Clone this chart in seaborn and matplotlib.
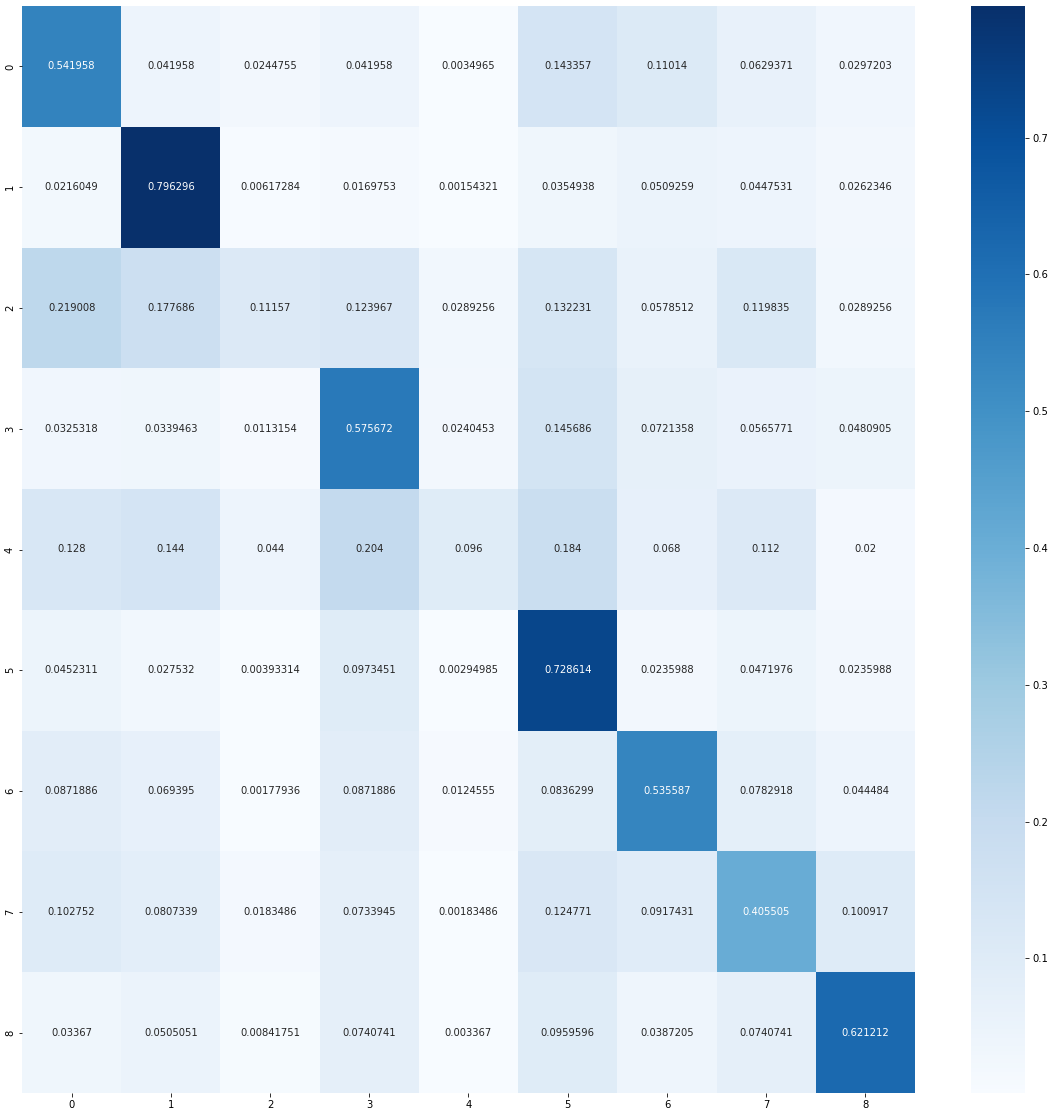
import numpy as np
import pandas as pd
import seaborn as sns
import matplotlib
matplotlib.use("Agg")
import matplotlib.pyplot as plt

labels = [0, 1, 2, 3, 4, 5, 6, 7, 8]
row0 = [0.541958, 0.041958, 0.0244755, 0.041958, 0.0034965, 0.143357, 0.11014, 0.0629371, 0.0297203]
row1 = [0.0216049, 0.796296, 0.00617284, 0.0169753, 0.00154321, 0.0354938, 0.0509259, 0.0447531, 0.0262346]
row2 = [0.219008, 0.177686, 0.11157, 0.123967, 0.0289256, 0.132231, 0.0578512, 0.119835, 0.0289256]
row3 = [0.0325318, 0.0339463, 0.0113154, 0.575672, 0.0240453, 0.145686, 0.0721358, 0.0565771, 0.0480905]
row4 = [0.128, 0.144, 0.044, 0.204, 0.096, 0.184, 0.068, 0.112, 0.02]
row5 = [0.0452311, 0.027532, 0.00393314, 0.0973451, 0.00294985, 0.728614, 0.0235988, 0.0471976, 0.0235988]
row6 = [0.0871886, 0.069395, 0.00177936, 0.0871886, 0.0124555, 0.0836299, 0.535587, 0.0782918, 0.044484]
row7 = [0.102752, 0.0807339, 0.0183486, 0.0733945, 0.00183486, 0.124771, 0.0917431, 0.405505, 0.100917]
row8 = [0.03367, 0.0505051, 0.00841751, 0.0740741, 0.003367, 0.0959596, 0.0387205, 0.0740741, 0.621212]

df = pd.DataFrame([row0, row1, row2, row3, row4, row5, row6, row7, row8],
                  index=labels, columns=labels)

W, H, DPI = 1050, 1111, 72
fig = plt.figure(figsize=(W / DPI, H / DPI), dpi=DPI)
ax = fig.add_axes([22 / W, 1 - 1093 / H, (915 - 22) / W, (1093 - 6) / H])
cax = fig.add_axes([971 / W, 1 - 1093 / H, (1025 - 971) / W, (1093 - 6) / H])

sns.heatmap(df, annot=True, fmt="g", cmap="Blues", ax=ax, cbar_ax=cax)

fig.savefig("out.png", dpi=DPI)
